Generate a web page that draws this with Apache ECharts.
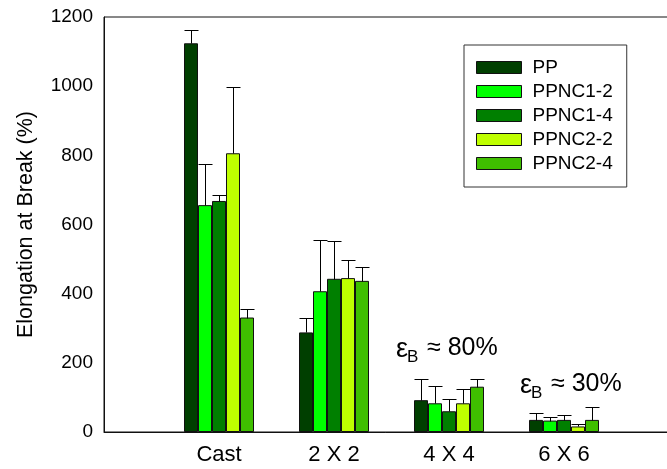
<!DOCTYPE html>
<html>
<head>
<meta charset="utf-8">
<script src="https://cdn.jsdelivr.net/npm/echarts@6/dist/echarts.min.js"></script>
<style>html,body{margin:0;padding:0;background:#fff;}#c{width:667px;height:469px;}</style>
</head>
<body>
<div id="c"></div>
<script>
// Data
var categories = ['', 'Cast', '2 X 2', '4 X 4', '6 X 6', ''];
var seriesNames = ['PP', 'PPNC1-2', 'PPNC1-4', 'PPNC2-2', 'PPNC2-4'];
var ppValues     = [1124, 288, 92, 35];
var ppnc12Values = [656, 407, 83, 33];
var ppnc14Values = [668, 443, 60, 35];
var ppnc22Values = [806, 445, 83, 16];
var ppnc24Values = [331, 437, 131, 35];
var ppErr     = [38, 42, 62, 21];
var ppnc12Err = [119, 149, 51, 11];
var ppnc14Err = [18, 108, 34, 15];
var ppnc22Err = [192, 52, 40, 7];
var ppnc24Err = [26, 41, 21, 38];
var yTicks = [0, 200, 400, 600, 800, 1000, 1200];

var colors = ['#003f00', '#00ff00', '#007f00', '#bfff00', '#3fbf00'];
var allValues = [ppValues, ppnc12Values, ppnc14Values, ppnc22Values, ppnc24Values];
var allErr = [ppErr, ppnc12Err, ppnc14Err, ppnc22Err, ppnc24Err];
var BW = 14;

function pad(arr) { return [null].concat(arr).concat([null]); }

var series = [];
seriesNames.forEach(function (name, i) {
  series.push({
    name: name, type: 'bar', barWidth: BW, barGap: '0%',
    data: pad(allValues[i]),
    itemStyle: { color: colors[i], borderColor: '#111', borderWidth: 1 },
    emphasis: { disabled: true }, animation: false
  });
});
seriesNames.forEach(function (name, i) {
  var d = allValues[i].map(function (v, k) { return [k + 1, v, v + allErr[i][k]]; });
  series.push({
    type: 'custom', name: name + '_err', z: 5, animation: false, silent: true,
    data: d,
    renderItem: function (params, api) {
      var base = api.coord([api.value(0), api.value(1)]);
      var top = api.coord([api.value(0), api.value(2)]);
      var x = Math.round(base[0] + (i - 2) * BW) + 0.5;
      var yb = Math.round(base[1]) + 0.5, yt = Math.round(top[1]) + 0.5;
      var st = { stroke: '#000', lineWidth: 1 };
      return { type: 'group', children: [
        { type: 'line', shape: { x1: x, y1: yb, x2: x, y2: yt }, style: st },
        { type: 'line', shape: { x1: x - BW / 2, y1: yt, x2: x + BW / 2, y2: yt }, style: st }
      ]};
    }
  });
});

var font = '"Liberation Sans", Arial, sans-serif';
var chart = echarts.init(document.getElementById('c'), null, { renderer: 'canvas' });
chart.setOption({
  animation: false,
  backgroundColor: '#fff',
  grid: { left: 104, width: 575, top: 17, height: 415, show: true, borderColor: '#111', borderWidth: 1,
    containLabel: false, outerBoundsMode: 'none' },
  legend: {
    data: seriesNames, orient: 'vertical', left: 464, top: 45,
    padding: [13, 14, 14, 12], itemGap: 5, itemWidth: 45, itemHeight: 12,
    borderColor: '#333', borderWidth: 1, icon: 'rect',
    itemStyle: { borderColor: '#111', borderWidth: 1 },
    textStyle: { fontSize: 19, fontFamily: font, color: '#000', padding: [0, 0, 0, 6] },
    selectedMode: false
  },
  xAxis: {
    type: 'category', data: categories, boundaryGap: false,
    axisLine: { lineStyle: { color: '#111', width: 1 } },
    axisTick: { show: true, inside: true, length: 4, lineStyle: { color: '#111' } },
    axisLabel: { fontSize: 22, fontFamily: font, color: '#000', margin: 12, interval: 0 },
    splitLine: { show: false }
  },
  yAxis: {
    type: 'value', min: yTicks[0], max: yTicks[yTicks.length - 1], interval: 200,
    name: 'Elongation at Break (%)', nameLocation: 'middle', nameGap: 67,
    nameTextStyle: { fontSize: 21.5, fontFamily: font, color: '#000' },
    axisLine: { show: true, lineStyle: { color: '#111', width: 1 } },
    axisTick: { show: false },
    axisLabel: { fontSize: 19, fontFamily: font, color: '#000', margin: 11,
      formatter: function (v) { return String(v); } },
    splitLine: { show: false }
  },
  graphic: [
    { type: 'text', left: 396, top: 336, style: { text: 'ε', font: '27px ' + font, fill: '#000' } },
    { type: 'text', left: 407, top: 349, style: { text: 'B', font: '17px ' + font, fill: '#000' } },
    { type: 'text', left: 427, top: 336, style: { text: '≈ 80%', font: '25px ' + font, fill: '#000' } },
    { type: 'text', left: 520, top: 372, style: { text: 'ε', font: '27px ' + font, fill: '#000' } },
    { type: 'text', left: 531, top: 385, style: { text: 'B', font: '17px ' + font, fill: '#000' } },
    { type: 'text', left: 551, top: 372, style: { text: '≈ 30%', font: '25px ' + font, fill: '#000' } }
  ],
  series: series
});
</script>
</body>
</html>
